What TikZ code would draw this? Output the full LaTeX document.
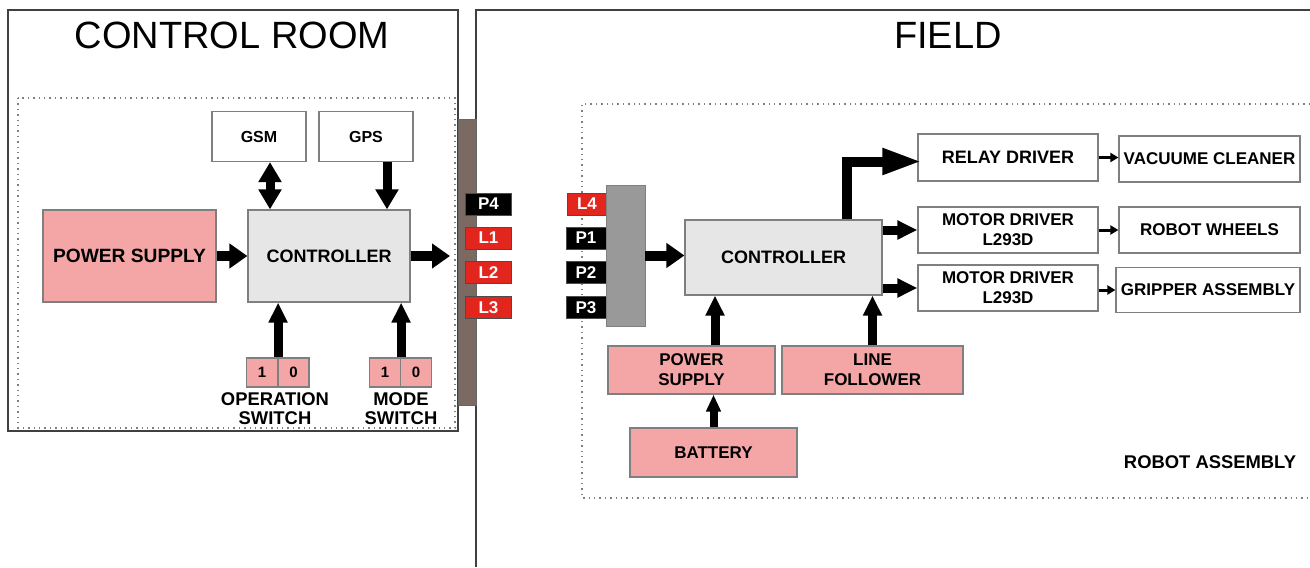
\documentclass[tikz,border=0pt]{standalone}
\usepackage{fontspec}
\setmainfont{Liberation Sans}
\usetikzlibrary{arrows.meta, positioning, calc}
\definecolor{boxpink}{HTML}{F4A6A6}
\definecolor{padred}{HTML}{E2261D}
\definecolor{ctrlgray}{HTML}{E6E6E6}
\definecolor{linkbrown}{HTML}{7B6A62}
\definecolor{busgray}{HTML}{999999}
\definecolor{edgegray}{HTML}{7F7F7F}

\begin{document}
\begin{tikzpicture}[
  x=0.5pt, y=-0.5pt,
  blk/.style={
    rectangle, draw=edgegray, line width=0.6pt, fill=white, align=center,
    font=\fontsize{8.5}{10}\selectfont\bfseries, inner sep=1pt,
  },
  pinkblk/.style={blk, fill=boxpink},
  ctrlblk/.style={blk, fill=ctrlgray, font=\fontsize{9}{10}\selectfont\bfseries},
  pad/.style={
    rectangle, draw=black!70, line width=0.4pt, text=white,
    font=\fontsize{8.5}{9}\selectfont\bfseries, minimum height=11pt, inner sep=0pt,
  },
  blackpad/.style={pad, fill=black},
  redpad/.style={pad, fill=padred},
  digit/.style={blk, fill=boxpink, font=\fontsize{7.5}{8}\selectfont\bfseries,
    minimum width=15.5pt, minimum height=14.5pt},
  caption/.style={font=\fontsize{9.2}{9.5}\selectfont\bfseries, align=center},
  fatarrow/.style={line width=5pt, -{Triangle[length=9pt, width=12pt]}},
  midarrow/.style={line width=4.5pt, -{Triangle[length=10pt, width=9pt]}},
  thinarrow/.style={line width=1.5pt, -{Triangle[length=4pt, width=4.5pt]}},
  frame/.style={draw=black!75, line width=0.7pt},
  zone/.style={draw=gray, dotted, line width=0.7pt},
]
  \useasboundingbox (0,0) rectangle (1310,567);

  % Frames
  \draw[frame] (8,10) rectangle (458,431);
  \draw[frame] (476,567) -- (476,10) -- (1310,10);
  \draw[zone] (18,98) rectangle (455,428);
  \draw[zone] (1310,104) -- (582,104) -- (582,498) -- (1310,498);

  % Headers
  \node[font=\fontsize{19}{21}\selectfont] (crtitle) at (232,35) {CONTROL ROOM};
  \node[font=\fontsize{19}{21}\selectfont] (fieldtitle) at (948,35) {FIELD};

  % Control room blocks
  \node[blk, minimum width=47pt, minimum height=25pt,
    font=\fontsize{8}{9}\selectfont\bfseries] (gsm) at (259,136.5) {GSM};
  \node[blk, minimum width=47pt, minimum height=25pt,
    font=\fontsize{8}{9}\selectfont\bfseries] (gps) at (366,136.5) {GPS};
  \node[pinkblk, minimum width=86.5pt, minimum height=46pt,
    font=\fontsize{9.6}{10}\selectfont\bfseries] (psleft) at (129.5,256) {POWER SUPPLY};
  \node[ctrlblk, minimum width=81pt, minimum height=46pt] (ctrlleft) at (329,256) {CONTROLLER};
  \node[digit] (op1) at (262,372.5) {1};
  \node[digit] (op0) at (293.5,372.5) {0};
  \node[digit] (md1) at (385,372.5) {1};
  \node[digit] (md0) at (416,372.5) {0};
  \node[caption] (oplabel) at (275,408.5) {OPERATION\\SWITCH};
  \node[caption] (mdlabel) at (401,408.5) {MODE\\SWITCH};
  \coordinate (linkin) at (450,256);

  % Link and pads
  \node[rectangle, draw=black!60, fill=linkbrown, minimum width=9pt,
    minimum height=143pt, inner sep=0pt] (link) at (467,262) {};
  \node[blackpad, minimum width=23pt] (p4) at (488.5,204) {P4};
  \node[redpad, minimum width=23pt] (l1) at (488.5,238) {L1};
  \node[redpad, minimum width=23pt] (l2) at (488.5,272.5) {L2};
  \node[redpad, minimum width=23pt] (l3) at (488.5,307.5) {L3};
  \node[redpad, minimum width=19.5pt] (l4) at (587,204) {L4};
  \node[blackpad, minimum width=20pt] (p1) at (586,238) {P1};
  \node[blackpad, minimum width=20pt] (p2) at (586,272.5) {P2};
  \node[blackpad, minimum width=20pt] (p3) at (586,307.5) {P3};
  \node[rectangle, draw=black!50, fill=busgray, minimum width=19.5pt,
    minimum height=70.5pt, inner sep=0pt] (bus) at (625.5,255.5) {};

  % Field blocks
  \node[ctrlblk, minimum width=98.5pt, minimum height=37.5pt] (ctrlfield) at (783.5,257.5) {CONTROLLER};
  \node[blk, minimum width=90pt, minimum height=23.5pt,
    font=\fontsize{9}{10}\selectfont\bfseries] (relay) at (1008,157.5) {RELAY DRIVER};
  \node[blk, minimum width=90.5pt, minimum height=23pt] (vacuum) at (1209.5,159) {VACUUME CLEANER};
  \node[blk, minimum width=90pt, minimum height=23pt] (motor1) at (1008,230) {MOTOR DRIVER\\L293D};
  \node[blk, minimum width=90.5pt, minimum height=23pt] (wheels) at (1209.5,230) {ROBOT WHEELS};
  \node[blk, minimum width=90pt, minimum height=23pt] (motor2) at (1008,288) {MOTOR DRIVER\\L293D};
  \node[blk, minimum width=92pt, minimum height=22.5pt] (gripper) at (1208,290) {GRIPPER ASSEMBLY};
  \node[pinkblk, minimum width=83.5pt, minimum height=24pt] (psfield) at (691.5,370) {POWER\\SUPPLY};
  \node[pinkblk, minimum width=90.5pt, minimum height=24pt] (follower) at (872.5,370) {LINE\\FOLLOWER};
  \node[pinkblk, minimum width=83.5pt, minimum height=24.5pt] (battery) at (713.5,452.5) {BATTERY};
  \node[caption] (robotlbl) at (1210,462) {ROBOT ASSEMBLY};

  % Connectors, control room
  \draw[fatarrow] (psleft) -- (ctrlleft);
  \draw[fatarrow] (ctrlleft.east) -- (linkin);
  \draw[line width=4.5pt, {Triangle[length=10pt, width=11pt]}-{Triangle[length=10pt, width=11pt]}]
    (gsm.south -| 270,0) -- (270,0 |- ctrlleft.north);
  \draw[line width=4.5pt, -{Triangle[length=10pt, width=11pt]}]
    (gps.south -| 387,0) -- (387,0 |- ctrlleft.north);
  \draw[midarrow] (op1.north east) -- (op1.north east |- ctrlleft.south);
  \draw[midarrow] (md1.north east) -- (md1.north east |- ctrlleft.south);

  % Connectors, field
  \draw[fatarrow] (bus.east) -- (bus.east -| ctrlfield.west);
  \draw[line width=5pt, line join=miter, shorten >=-2.5pt, -{Triangle[length=20pt, width=12pt]}]
    (ctrlfield.north -| 847,0) |- ([yshift=-2pt]relay.west);
  \draw[midarrow] (ctrlfield.east |- motor1.west) -- (motor1.west);
  \draw[midarrow] (ctrlfield.east |- motor2.west) -- (motor2.west);
  \draw[thinarrow] (relay.east) -- (relay.east -| vacuum.west);
  \draw[thinarrow] (motor1.east) -- (wheels.west);
  \draw[thinarrow] (motor2.east |- gripper.west) -- (gripper.west);
  \draw[midarrow] (psfield.north -| 715,0) -- (715,0 |- ctrlfield.south);
  \draw[midarrow] (follower.north) -- (follower.north |- ctrlfield.south);
  \draw[line width=4pt, -{Triangle[length=8.5pt, width=7pt]}]
    (battery.north) -- (battery.north |- psfield.south);

\end{tikzpicture}
\end{document}
